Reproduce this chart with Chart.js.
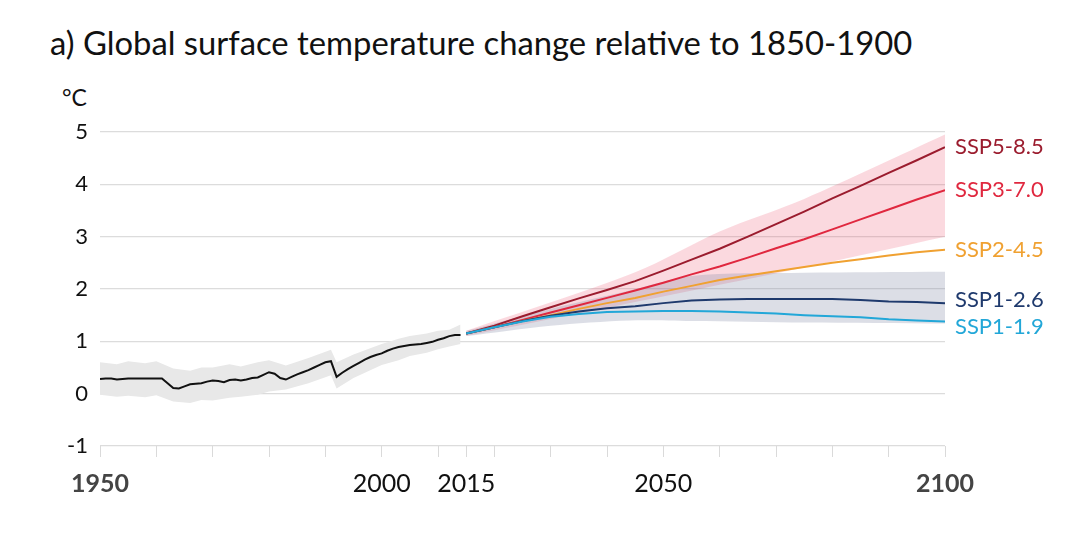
<!DOCTYPE html>
<html>
<head>
<meta charset="utf-8">
<script src="https://cdn.jsdelivr.net/npm/chart.js@4.4.1/dist/chart.umd.min.js"></script>
<style>
  body { margin: 0; background: #fff; font-family: Lato, "Noto Sans", sans-serif; }
  #wrap { position: relative; width: 1090px; height: 535px; }
  #title { position: absolute; left: 50px; top: 23px; font-size: 32.8px; color: #111; white-space: nowrap; }
  #unit { position: absolute; left: 62px; top: 83px; font-size: 23px; color: #111; }
  canvas { position: absolute; left: 0; top: 0; }
</style>
</head>
<body>
<div id="wrap">
  <div id="title">a) Global surface temperature change relative to 1850-1900</div>
  <div id="unit">°C</div>
  <canvas id="chart" width="1090" height="535"></canvas>
</div>
<script>
// Historical observations (1950-2014)
const histYears = [1950, 1951, 1952, 1953, 1954, 1955, 1956, 1957, 1958, 1959,
  1960, 1961, 1962, 1963, 1964, 1965, 1966, 1967, 1968, 1969,
  1970, 1971, 1972, 1973, 1974, 1975, 1976, 1977, 1978, 1979,
  1980, 1981, 1982, 1983, 1984, 1985, 1986, 1987, 1988, 1989,
  1990, 1991, 1992, 1993, 1994, 1995, 1996, 1997, 1998, 1999,
  2000, 2001, 2002, 2003, 2004, 2005, 2006, 2007, 2008, 2009,
  2010, 2011, 2012, 2013, 2014]
const histValues = [0.28, 0.29, 0.29, 0.27, 0.28, 0.29, 0.29, 0.29, 0.29, 0.29,
  0.29, 0.29, 0.2, 0.11, 0.1, 0.14, 0.18, 0.19, 0.2, 0.23,
  0.25, 0.24, 0.22, 0.26, 0.27, 0.25, 0.27, 0.3, 0.31, 0.36,
  0.41, 0.38, 0.3, 0.27, 0.32, 0.37, 0.41, 0.45, 0.5, 0.55,
  0.6, 0.62, 0.32, 0.4, 0.47, 0.53, 0.59, 0.65, 0.7, 0.74,
  0.77, 0.82, 0.86, 0.89, 0.91, 0.93, 0.94, 0.95, 0.97, 0.99,
  1.03, 1.06, 1.1, 1.12, 1.12]

// Historical uncertainty band
const histBandYears = [1950, 1953, 1955, 1958, 1960, 1963, 1966, 1968, 1970, 1973, 1975, 1978, 1980, 1983, 1987, 1991, 1992, 1995, 2000, 2003, 2005, 2008, 2010, 2012, 2014]
const histBandLow = [-0.02, -0.06, -0.04, -0.07, -0.03, -0.15, -0.18, -0.12, -0.13, -0.08, -0.06, -0.02, 0.04, 0.08, 0.2, 0.35, 0.1, 0.3, 0.55, 0.64, 0.72, 0.78, 0.85, 0.9, 0.95]
const histBandHigh = [0.6, 0.56, 0.62, 0.58, 0.62, 0.48, 0.44, 0.5, 0.5, 0.56, 0.52, 0.6, 0.64, 0.54, 0.68, 0.84, 0.6, 0.75, 0.95, 1.05, 1.1, 1.15, 1.2, 1.22, 1.32]

// Scenario projections (2015-2100)
const projYears = [2015, 2020, 2025, 2030, 2035, 2040, 2045, 2050, 2055, 2060,
  2065, 2070, 2075, 2080, 2085, 2090, 2095, 2100]
const ssp585 = [1.15, 1.3, 1.48, 1.65, 1.82, 1.98, 2.15, 2.35, 2.56, 2.77, 3.0, 3.24, 3.48, 3.73, 3.97, 4.22, 4.46, 4.71]
const ssp370 = [1.15, 1.27, 1.41, 1.55, 1.69, 1.83, 1.97, 2.12, 2.28, 2.43, 2.6, 2.78, 2.95, 3.14, 3.33, 3.52, 3.71, 3.89]
const ssp245 = [1.15, 1.27, 1.39, 1.5, 1.62, 1.73, 1.83, 1.95, 2.06, 2.17, 2.26, 2.34, 2.42, 2.5, 2.57, 2.64, 2.7, 2.75]
const ssp126 = [1.15, 1.27, 1.39, 1.49, 1.57, 1.63, 1.67, 1.73, 1.78, 1.8, 1.81, 1.81, 1.81, 1.81, 1.79, 1.76, 1.75, 1.73]
const ssp119 = [1.15, 1.27, 1.38, 1.47, 1.52, 1.56, 1.57, 1.58, 1.58, 1.57, 1.55, 1.53, 1.5, 1.48, 1.46, 1.42, 1.4, 1.38]

// Projection ranges (high-emission pink, low-emission grey)
const highBandYears = [2015, 2045, 2060, 2075, 2100]
const highBandLow = [1.1, 1.75, 2.08, 2.41, 3.0]
const highBandHigh = [1.2, 2.32, 3.1, 3.72, 4.95]
const lowBandYears = [2015, 2030, 2044, 2055, 2075, 2100]
const lowBandLow = [1.1, 1.3, 1.4, 1.39, 1.36, 1.34]
const lowBandHigh = [1.2, 1.62, 1.97, 2.25, 2.31, 2.33]

const scenarioNames = ["SSP5-8.5", "SSP3-7.0", "SSP2-4.5", "SSP1-2.6", "SSP1-1.9"]
const scenarioColors = ["#9b1c2e", "#e0283f", "#f0a131", "#1f3a6d", "#22a7d8"]
const scenarioValues = [ssp585, ssp370, ssp245, ssp126, ssp119]
const labelNudge = [0, 0, 0, -3, 5]

// Build {x, y} points
function toPoints(xs, ys) {
  return xs.map((x, i) => ({ x: x, y: ys[i] }))
}

function band(xs, low, high, color, order, tension) {
  return [
    { data: toPoints(xs, low), borderWidth: 0, pointRadius: 0, fill: false, order: order, tension: tension },
    { data: toPoints(xs, high), borderWidth: 0, pointRadius: 0, fill: "-1", backgroundColor: color, order: order, tension: tension },
  ]
}

const datasets = [
  ...band(highBandYears, highBandLow, highBandHigh, "rgba(236, 80, 110, 0.22)", 12, 0.3),
  ...band(lowBandYears, lowBandLow, lowBandHigh, "rgba(120, 128, 160, 0.26)", 11, 0.3),
  ...band(histBandYears, histBandLow, histBandHigh, "#e8e8e8", 13, 0),
  {
    data: toPoints(histYears, histValues),
    borderColor: "#111",
    borderWidth: 2,
    pointRadius: 0,
    fill: false,
    order: 1,
  },
]

scenarioValues.forEach((values, i) => {
  datasets.push({
    label: scenarioNames[i],
    data: toPoints(projYears, values),
    borderColor: scenarioColors[i],
    borderWidth: 2,
    pointRadius: 0,
    fill: false,
    order: 2 + (4 - i),
  })
})

const xTickYears = [1950, 1960, 1970, 1980, 1990, 2000, 2010, 2015, 2020, 2030, 2040, 2050, 2060, 2070, 2080, 2090, 2100]
const xLabelYears = [1950, 2000, 2015, 2050, 2100]
const boldYears = [1950, 2100]

// Scenario names at the right end of each line
const endLabels = {
  id: "endLabels",
  afterDatasetsDraw(chart) {
    const ctx = chart.ctx
    const x = chart.scales.x
    const y = chart.scales.y
    ctx.save()
    ctx.font = "22px Lato"
    ctx.textBaseline = "middle"
    ctx.textAlign = "left"
    scenarioNames.forEach((name, i) => {
      const vals = scenarioValues[i]
      ctx.fillStyle = scenarioColors[i]
      ctx.fillText(name, x.getPixelForValue(2100) + 10, y.getPixelForValue(vals[vals.length - 1]) + labelNudge[i])
    })
    ctx.restore()
  },
}

new Chart(document.getElementById("chart").getContext("2d"), {
  type: "line",
  data: { datasets: datasets },
  options: {
    responsive: false,
    animation: false,
    layout: { padding: { top: 132, right: 145, left: 0, bottom: 0 } },
    plugins: { legend: { display: false }, tooltip: { enabled: false } },
    scales: {
      x: {
        type: "linear",
        min: 1950,
        max: 2100,
        afterBuildTicks: (scale) => {
          scale.ticks = xTickYears.map((v) => ({ value: v }))
        },
        afterFit: (scale) => {
          scale.height = 89
        },
        ticks: {
          autoSkip: false,
          maxRotation: 0,
          padding: 12,
          color: (c) => (c.tick && boldYears.includes(c.tick.value) ? "#444" : "#111"),
          font: (c) => ({
            family: "Lato",
            size: 25,
            weight: c.tick && boldYears.includes(c.tick.value) ? "bold" : "normal",
          }),
          callback: (v) => (xLabelYears.includes(v) ? String(v) : ""),
        },
        grid: { drawOnChartArea: false, drawTicks: true, tickLength: 11, color: "#dadada" },
        border: { display: false },
      },
      y: {
        min: -1,
        max: 5,
        afterFit: (scale) => {
          scale.width = 100
        },
        ticks: {
          stepSize: 1,
          padding: 12,
          color: "#111",
          font: { family: "Lato", size: 22 },
        },
        grid: { color: "#dcdcdc", lineWidth: 1.2, drawTicks: false },
        border: { display: false },
      },
    },
  },
  plugins: [endLabels],
})
</script>
</body>
</html>
